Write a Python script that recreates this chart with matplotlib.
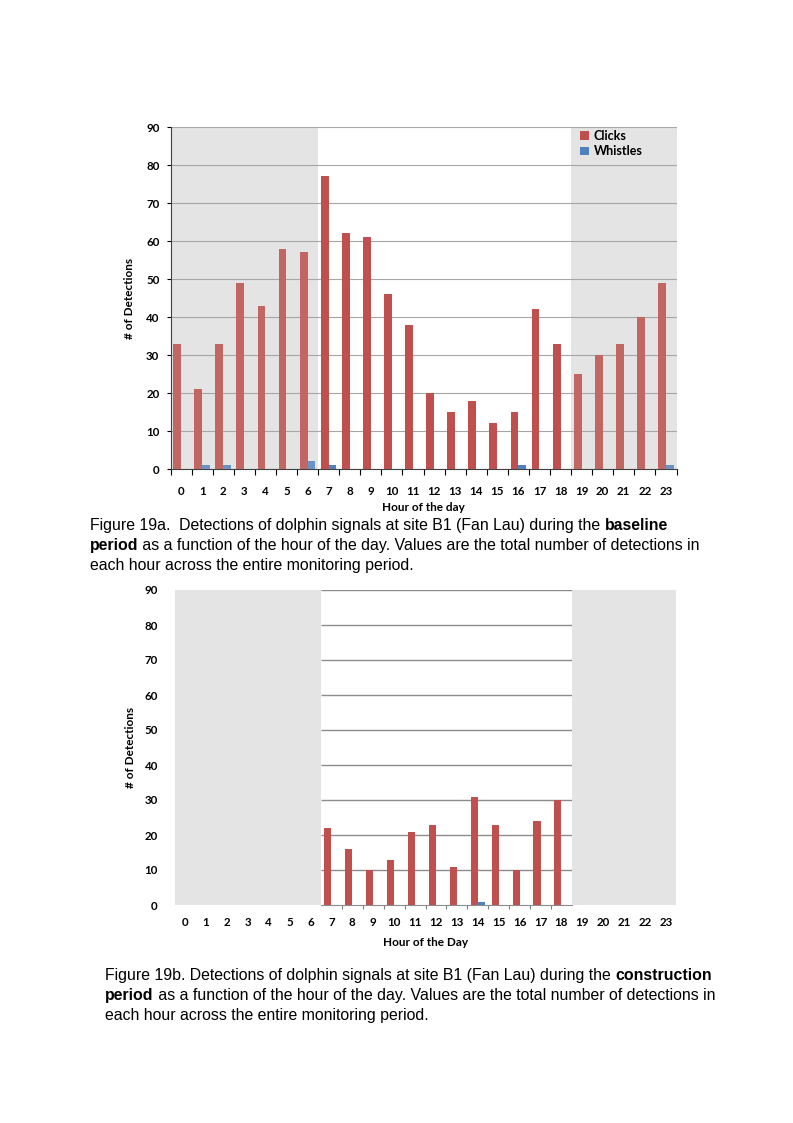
import matplotlib
matplotlib.use('Agg')
import matplotlib.pyplot as plt
import numpy as np

# 数据
hours = list(range(24))
hour_labels = [str(h) for h in hours]

clicks_baseline = [33, 21, 33, 49, 43, 58, 57, 77, 62, 61, 46, 38,
                   20, 15, 18, 12, 15, 42, 33, 25, 30, 33, 40, 49]
whistles_baseline = [0, 1, 1, 0, 0, 0, 2, 1, 0, 0, 0, 0,
                     0, 0, 0, 0, 1, 0, 0, 0, 0, 0, 0, 1]

clicks_construction = [0, 0, 0, 0, 0, 0, 0, 22, 16, 10, 13, 21,
                       23, 11, 31, 23, 10, 24, 30, 0, 0, 0, 0, 0]
whistles_construction = [0, 0, 0, 0, 0, 0, 0, 0, 0, 0, 0, 0,
                         0, 0, 1, 0, 0, 0, 0, 0, 0, 0, 0, 0]

night_hours = [0, 1, 2, 3, 4, 5, 6, 19, 20, 21, 22, 23]
y_ticks = list(range(0, 91, 10))

caption_a = [
    [("Figure 19a.  Detections of dolphin signals at site B1 (Fan Lau) during the ", False), ("baseline", True)],
    [("period", True), (" as a function of the hour of the day. Values are the total number of detections in", False)],
    [("each hour across the entire monitoring period.", False)],
]
caption_b = [
    [("Figure 19b. Detections of dolphin signals at site B1 (Fan Lau) during the ", False), ("construction", True)],
    [("period", True), (" as a function of the hour of the day. Values are the total number of detections in", False)],
    [("each hour across the entire monitoring period.", False)],
]

RED = '#c0504d'
RED_LIGHT = '#c26664'
BLUE = '#4f81bd'
BLUE_LIGHT = '#6a92c4'
SHADE = '#e4e4e4'
CHART_FONT = 'Lato'
CAP_FONT = 'Liberation Sans'

W, H = 793, 1123
fig = plt.figure(figsize=(W / 100, H / 100), dpi=100)


def px_axes(left, top, right, bottom):
    return fig.add_axes([left / W, 1 - bottom / H, (right - left) / W, (bottom - top) / H])


def draw_caption(lines, x0, y0, dy, size=11.4):
    renderer = fig.canvas.get_renderer()
    for i, line in enumerate(lines):
        x = x0 / W
        y = 1 - (y0 + i * dy) / H
        for txt, bold in line:
            t = fig.text(x, y, txt, fontsize=size, family=CAP_FONT,
                         fontweight='bold' if bold else 'normal', va='baseline', ha='left')
            bb = t.get_window_extent(renderer)
            x = bb.x1 / W


x = np.arange(24)

# ---------- 图 19a ----------
ax1 = px_axes(170.5, 127, 676.5, 469)
for h in night_hours:
    ax1.axvspan(h - 0.5, h + 0.5, color=SHADE, lw=0, zorder=0)
bw = 0.37
c_cols = [RED_LIGHT if h in night_hours else RED for h in hours]
w_cols = [BLUE_LIGHT if h in night_hours else BLUE for h in hours]
ax1.bar(x - bw / 2, clicks_baseline, bw, color=c_cols, zorder=3)
ax1.bar(x + bw / 2, whistles_baseline, bw, color=w_cols, zorder=3)
ax1.bar([0], [0], color=RED, label='Clicks')
ax1.bar([0], [0], color=BLUE, label='Whistles')
ax1.set_xlim(-0.5, 23.5)
ax1.set_ylim(0, 90)
ax1.set_yticks(y_ticks)
ax1.set_xticks(x)
ax1.set_xticklabels(hour_labels)
ax1.set_xticks(np.arange(-0.5, 24, 1), minor=True)
ax1.tick_params(axis='x', which='major', length=0, pad=12)
ax1.tick_params(axis='x', which='minor', length=4, width=0.8, direction='out')
ax1.tick_params(axis='y', length=3, width=0.8, direction='out', pad=5)
for lab in ax1.get_xticklabels() + ax1.get_yticklabels():
    lab.set_fontfamily(CHART_FONT)
    lab.set_fontweight('bold')
    lab.set_fontsize(8.3)
ax1.grid(axis='y', color='#a6a6a6', lw=0.8, zorder=1)
ax1.set_axisbelow(True)
for s in ['top', 'right']:
    ax1.spines[s].set_visible(False)
ax1.spines['left'].set_color('#404040')
ax1.spines['bottom'].set_color('#404040')
ax1.set_xlabel('Hour of the day', fontfamily=CHART_FONT, fontweight='bold', fontsize=8.5, labelpad=4)
ax1.set_ylabel('# of Detections', fontfamily=CHART_FONT, fontweight='bold', fontsize=8.5, labelpad=8)
handles, labels = ax1.get_legend_handles_labels()
ax1.legend(handles[-2:], labels[-2:], loc='upper right', bbox_to_anchor=(0.955, 1.025), frameon=False,
           handlelength=0.7, handleheight=0.7, handletextpad=0.4, labelspacing=0.3,
           prop={'family': CHART_FONT, 'weight': 'bold', 'size': 9})

draw_caption(caption_a, 90, 530, 20)

# ---------- 图 19b ----------
ax2 = px_axes(174.5, 590, 676.5, 905)
bw2 = 0.34
ax2.hlines(y_ticks[1:], 6.5, 18.5, color='#8c8c8c', lw=1.0, zorder=1)
ax2.bar(x - bw2 / 2, clicks_construction, bw2, color=RED, zorder=3)
ax2.bar(x + bw2 / 2, whistles_construction, bw2, color=BLUE, zorder=3)
for h in night_hours:
    ax2.axvspan(h - 0.5, h + 0.5, color=SHADE, lw=0, zorder=5)
ax2.set_xlim(-0.5, 23.5)
ax2.set_ylim(0, 90)
ax2.set_yticks(y_ticks)
ax2.set_xticks(x)
ax2.set_xticklabels(hour_labels)
ax2.set_xticks(np.arange(7.5, 18, 1), minor=True)
ax2.tick_params(axis='x', which='major', length=0, pad=9)
ax2.tick_params(axis='x', which='minor', length=3, width=0.8, direction='out', color='#808080')
ax2.tick_params(axis='y', length=0, pad=12)
for lab in ax2.get_xticklabels() + ax2.get_yticklabels():
    lab.set_fontfamily(CHART_FONT)
    lab.set_fontweight('bold')
    lab.set_fontsize(8.3)
for s in ['top', 'right', 'left']:
    ax2.spines[s].set_visible(False)
ax2.spines['bottom'].set_bounds(6.5, 18.5)
ax2.spines['bottom'].set_color('#8c8c8c')
ax2.set_xlabel('Hour of the Day', fontfamily=CHART_FONT, fontweight='bold', fontsize=8.5, labelpad=6)
ax2.set_ylabel('# of Detections', fontfamily=CHART_FONT, fontweight='bold', fontsize=8.5, labelpad=6)

draw_caption(caption_b, 105, 980, 20)

fig.savefig('out.png', dpi=100)
